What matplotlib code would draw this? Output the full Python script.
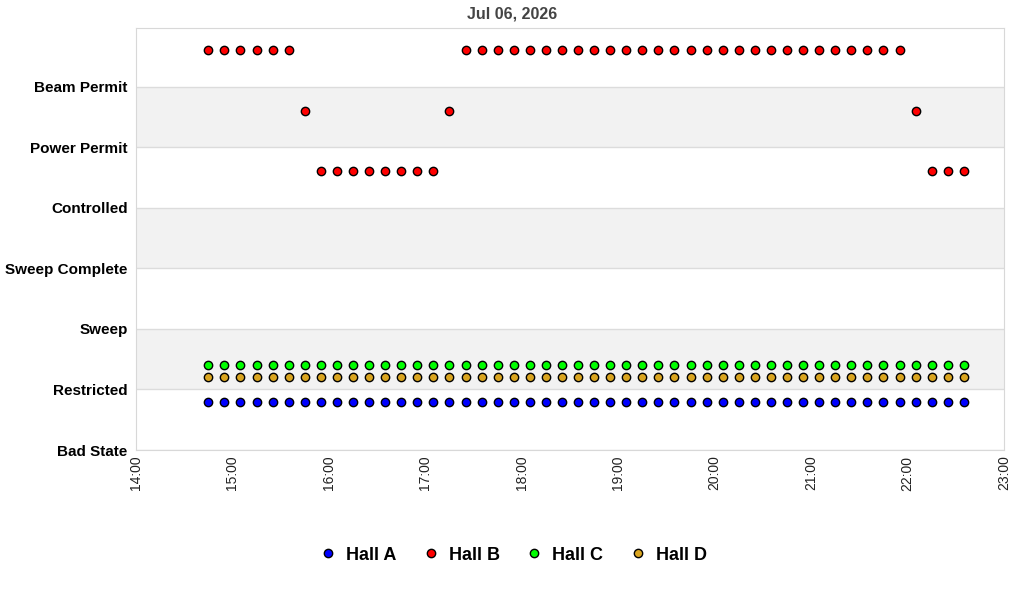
import numpy as np
import matplotlib
matplotlib.use('Agg')
import matplotlib.pyplot as plt
import matplotlib.dates as mdates
from datetime import datetime

plt.rcParams['font.family'] = ['Liberation Sans', 'DejaVu Sans']

# state names, bottom to top
states = ['Bad State', 'Restricted', 'Sweep', 'Sweep Complete',
          'Controlled', 'Power Permit', 'Beam Permit']

day = '2026-07-06'
times = ['14:45', '14:55', '15:05', '15:15', '15:25', '15:35', '15:45', '15:55',
         '16:05', '16:15', '16:25', '16:35', '16:45', '16:55', '17:05', '17:15',
         '17:25', '17:35', '17:45', '17:55', '18:05', '18:15', '18:25', '18:35',
         '18:45', '18:55', '19:05', '19:15', '19:25', '19:35', '19:45', '19:55',
         '20:05', '20:15', '20:25', '20:35', '20:45', '20:55', '21:05', '21:15',
         '21:25', '21:35', '21:45', '21:55', '22:05', '22:15', '22:25', '22:35']

hall_a = ['Bad State'] * 48
hall_b = (['Beam Permit'] * 6 + ['Power Permit'] + ['Controlled'] * 8 +
          ['Power Permit'] + ['Beam Permit'] * 28 + ['Power Permit'] +
          ['Controlled'] * 3)
hall_c = ['Restricted'] * 48
hall_d = ['Restricted'] * 48

halls = ['Hall A', 'Hall B', 'Hall C', 'Hall D']
hall_states = [hall_a, hall_b, hall_c, hall_d]
offsets = [0.8, 0.6, 0.4, 0.2]
colors = ['#0000ff', '#ff0000', '#00ff00', '#daa520']

x = [datetime.strptime(day + ' ' + t, '%Y-%m-%d %H:%M') for t in times]

fig = plt.figure(figsize=(10.24, 6.0), dpi=100)
ax = fig.add_axes([136/1024, 1-450/600, 868/1024, 422/600])

# alternating bands
for lo in [1, 3, 5]:
    ax.axhspan(lo, lo+1, color='#f2f2f2', zorder=0, lw=0)
for k in range(len(states)):
    ax.axhline(k, color='#dcdcdc', lw=1, zorder=1)

for name, st, off, c in zip(halls, hall_states, offsets, colors):
    y = [states.index(s) + off for s in st]
    ax.plot(x, y, 'o', ms=6, mfc=c, mec='black', mew=1, label=name, zorder=3)

ax.set_ylim(0, 6.97)
ax.set_yticks(range(len(states)))
ax.set_yticklabels(states, fontweight='bold', fontsize=11)
ax.set_xlim(datetime(2026, 7, 6, 14, 0), datetime(2026, 7, 6, 23, 0))
ax.xaxis.set_major_locator(mdates.HourLocator())
ax.xaxis.set_major_formatter(mdates.DateFormatter('%H:%M'))
plt.setp(ax.get_xticklabels(), rotation=90, fontsize=10, color='#222222')
ax.tick_params(axis='y', length=0, pad=6)
ax.tick_params(axis='x', length=0, pad=4)
for sp in ax.spines.values():
    sp.set_color('#d8d8d8')

fig.suptitle('Jul 06, 2026', x=0.5, y=1-14/600, va='center',
             fontweight='bold', fontsize=11.5, color='#444444')

fig.legend(loc='center', bbox_to_anchor=(0.5, 1-555/600), ncol=4, frameon=False,
           prop={'weight': 'bold', 'size': 13}, handletextpad=0.4, columnspacing=1.3,
           handlelength=1.2, markerscale=1.0)

fig.savefig('out.png', dpi=100)
